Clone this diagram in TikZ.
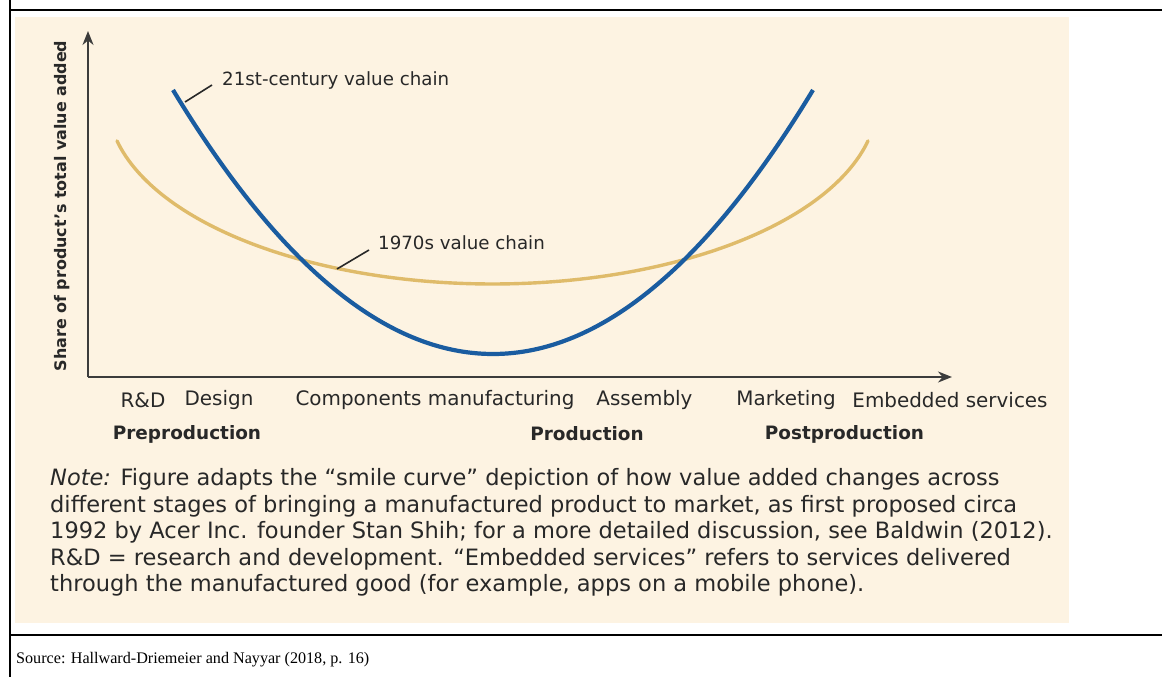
\documentclass[tikz,border=0pt]{standalone}
\usepackage{fontspec}
\setmainfont{DejaVu Sans}
\newfontfamily\srcfont{Liberation Serif}
\usetikzlibrary{arrows.meta}
\definecolor{bgbeige}{RGB}{253,243,226}
\definecolor{curveblue}{RGB}{26,92,160}
\definecolor{curvegold}{RGB}{223,187,106}
\definecolor{inkgray}{RGB}{40,40,40}
\definecolor{axisgray}{RGB}{60,60,60}
\newcommand\myfs[2]{\fontsize{#1}{#2}\selectfont}
\begin{document}
\begin{tikzpicture}[x=1bp,y=-1bp,
  frameline/.style={black,line width=2bp},
  axisline/.style={axisgray,line width=1.8bp,-{Stealth[length=14bp,width=11bp]}},
  leader/.style={inkgray,line width=1.6bp},
  lbl/.style={inner sep=0pt,text=inkgray,font=\myfs{20}{24}},
  cat/.style={inner sep=0pt,text=inkgray,font=\bfseries\myfs{18.5}{22}},
  curvelbl/.style={inner sep=0pt,text=inkgray,font=\myfs{18.3}{22},anchor=mid west},
  notetxt/.style={inner sep=0pt,text=inkgray,font=\myfs{22.6}{26},anchor=mid west},
]
\useasboundingbox (0,0) rectangle (1162,677);
\fill[white] (0,0) rectangle (1162,677);
\fill[bgbeige] (15,17) rectangle (1069,623);
\draw[frameline] (10,0) -- (10,677);
\draw[frameline] (10,10) -- (1162,10);
\draw[frameline] (10,634.5) -- (1162,634.5);

% axes
\coordinate (O) at (88,377);
\coordinate (ytip) at (88,31);
\coordinate (xtip) at (952,377);
\draw[axisline] (O) -- (ytip);
\draw[axisline] (O) -- (xtip);
\node[rotate=90,inner sep=0pt,text=inkgray,font=\bfseries\myfs{16}{20}] (ylab) at (62,206) {Share of product’s total value added};

% curves
\draw[curvegold,line width=3.4bp,line cap=round] plot[domain=167.26:12.74,samples=160] ({492.5+385*cos(\x)},{100.4+183.6*sin(\x)});
\draw[curveblue,line width=4.2bp] (173,90) .. controls (386.3,442) and (599.7,442) .. (813,90);

% curve labels
\node[curvelbl] (l21) at (222,83) {21st-century value chain};
\node[curvelbl] (l70) at (378,247) {1970s value chain};
\coordinate (l21a) at (185,102);
\coordinate (l21b) at (212,85);
\coordinate (l70a) at (337,269);
\coordinate (l70b) at (369,250);
\draw[leader] (l21a) -- (l21b);
\draw[leader] (l70a) -- (l70b);

% x labels
\node[lbl] (rd) at (143,400) {R\&D};
\node[lbl] (design) at (219,400) {Design};
\node[lbl] (comp) at (435,400) {Components manufacturing};
\node[lbl] (assem) at (644.5,400) {Assembly};
\node[lbl] (mkt) at (786,400) {Marketing};
\node[lbl] (emb) at (950,400) {Embedded services};
\node[cat] (pre) at (187,434) {Preproduction};
\node[cat] (prod) at (587,434) {Production};
\node[cat] (post) at (844.5,434) {Postproduction};

% note
\node[notetxt] (n1) at (50,483) {\textit{Note:} Figure adapts the “smile curve” depiction of how value added changes across};
\node[notetxt] (n2) at (50,509.5) {different stages of bringing a manufactured product to market, as first proposed circa};
\node[notetxt] (n3) at (50,536) {1992 by Acer Inc. founder Stan Shih; for a more detailed discussion, see Baldwin (2012).};
\node[notetxt] (n4) at (50,562.5) {R\&D = research and development. “Embedded services” refers to services delivered};
\node[notetxt] (n5) at (50,589) {through the manufactured good (for example, apps on a mobile phone).};

% source
\node[inner sep=0pt,anchor=mid west,text=black,font=\srcfont\myfs{16.2}{19}] (src) at (16,661) {Source: Hallward-Driemeier and Nayyar (2018, p. 16)};
\end{tikzpicture}
\end{document}
